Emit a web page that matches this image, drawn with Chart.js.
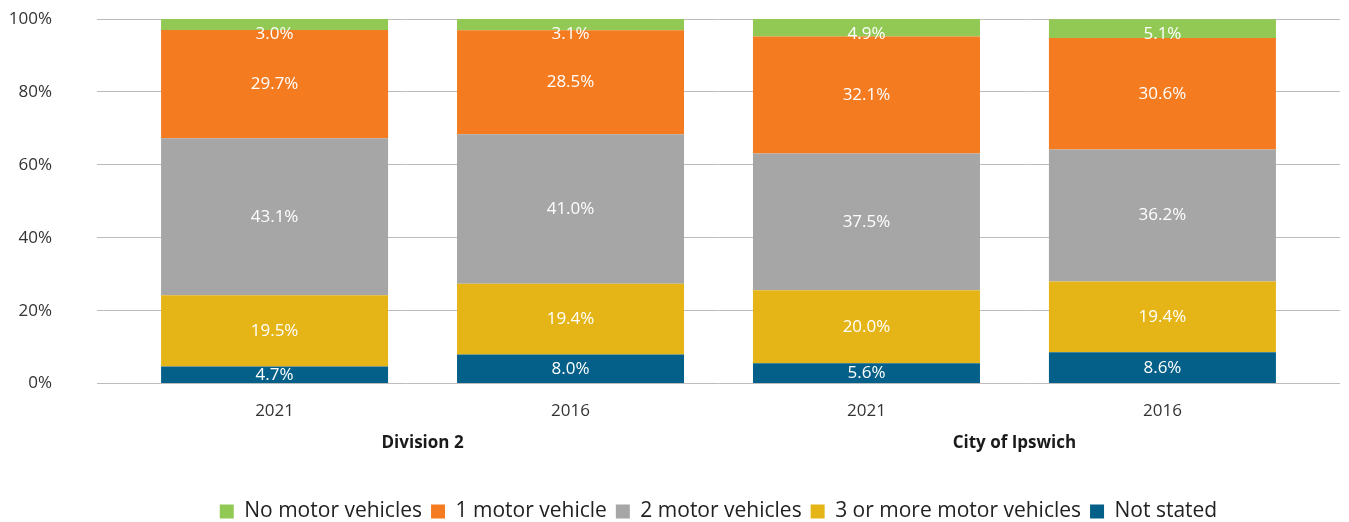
<!DOCTYPE html>
<html>
<head>
<meta charset="utf-8">
<script src="https://cdn.jsdelivr.net/npm/chart.js@4"></script>
<style>
  html, body { margin: 0; padding: 0; background: #fff; }
  #chart-container { width: 1349px; height: 522px; position: relative; }
</style>
</head>
<body>
<div id="chart-container"><canvas id="chartVehicles"></canvas></div>
<script>
// categories (x axis) and the group each pair belongs to
const years = ['2021', '2016', '2021', '2016'];
const groups = ['Division 2', 'City of Ipswich'];
const groupOf = [0, 0, 1, 1];

// series, bottom of the stack first
const notStated = [4.7, 8.0, 5.6, 8.6];
const threePlus = [19.5, 19.4, 20.0, 19.4];
const twoVehicles = [43.1, 41.0, 37.5, 36.2];
const oneVehicle = [29.7, 28.5, 32.1, 30.6];
const noVehicles = [3.0, 3.1, 4.9, 5.1];

const yTicks = [0, 20, 40, 60, 80, 100];

const fontFamily = '"Open Sans", Lato, sans-serif';

// bars sit on a numeric x axis so the grid can run past the outer bars
const toPoints = (arr) => arr.map((v, i) => ({ x: i, y: v }));

// white value labels in the middle of each segment
const segmentLabels = {
    id: 'segmentLabels',
    afterDatasetsDraw(chart) {
        const ctx = chart.ctx;
        const top = chart.chartArea.top;
        ctx.save();
        ctx.fillStyle = '#ffffff';
        ctx.font = '17px ' + fontFamily;
        ctx.textAlign = 'center';
        ctx.textBaseline = 'middle';
        chart.data.datasets.forEach((ds, i) => {
            const meta = chart.getDatasetMeta(i);
            meta.data.forEach((bar, j) => {
                const mid = (bar.y + bar.base) / 2;
                const y = Math.max(mid, top + 15);
                ctx.fillText(ds.data[j].y.toFixed(1) + '%', bar.x, y);
            });
        });
        ctx.restore();
    }
};

// bold group names under each pair of years
const groupLabels = {
    id: 'groupLabels',
    afterDraw(chart) {
        const ctx = chart.ctx;
        const x = chart.scales.x;
        ctx.save();
        ctx.fillStyle = '#1a1a1a';
        ctx.font = 'bold 17px ' + fontFamily;
        ctx.textAlign = 'center';
        ctx.textBaseline = 'middle';
        groups.forEach((g, gi) => {
            const idx = [];
            groupOf.forEach((v, k) => { if (v === gi) idx.push(k); });
            const cx = (x.getPixelForValue(idx[0]) + x.getPixelForValue(idx[idx.length - 1])) / 2;
            ctx.fillText(g, cx, chart.chartArea.bottom + 60);
        });
        ctx.restore();
    }
};

// centre the legend on the plot area instead of the whole canvas
const legendShift = {
    id: 'legendShift',
    afterLayout(chart) {
        const lg = chart.legend;
        const area = chart.chartArea;
        const dx = (area.left + area.right) / 2 - (lg.left + lg.right) / 2;
        lg.left += dx;
        lg.right += dx;
    }
};

const data = {
    datasets: [
        { label: 'Not stated', data: toPoints(notStated), backgroundColor: '#046088' },
        { label: '3 or more motor vehicles', data: toPoints(threePlus), backgroundColor: '#E5B517' },
        { label: '2 motor vehicles', data: toPoints(twoVehicles), backgroundColor: '#A5A6A5' },
        { label: '1 motor vehicle', data: toPoints(oneVehicle), backgroundColor: '#F47B20' },
        { label: 'No motor vehicles', data: toPoints(noVehicles), backgroundColor: '#92C955' }
    ]
};

const options = {
    responsive: true,
    maintainAspectRatio: false,
    animation: false,
    layout: { padding: { top: 19, right: 9, left: 6, bottom: -10 } },
    datasets: {
        bar: { barPercentage: 0.767, categoryPercentage: 1.0, borderWidth: 0 }
    },
    scales: {
        x: {
            type: 'linear',
            offset: false,
            stacked: true,
            min: -0.6,
            max: 3.6,
            afterBuildTicks: (scale) => { scale.ticks = years.map((y, i) => ({ value: i })); },
            grid: { display: false },
            border: { display: false },
            ticks: {
                color: '#333',
                font: { size: 17, family: fontFamily },
                padding: 9,
                callback: (v) => years[v]
            },
            afterFit: (scale) => { scale.height += 62; }
        },
        y: {
            stacked: true,
            min: 0,
            max: 100,
            afterBuildTicks: (scale) => { scale.ticks = yTicks.map(v => ({ value: v })); },
            afterFit: (scale) => {
                scale.width = 91;
                scale.paddingTop = 10;
                scale.paddingBottom = 10;
            },
            grid: { color: '#BCBCBC', lineWidth: 1, drawTicks: false },
            border: { display: false },
            ticks: {
                color: '#333',
                font: { size: 17, family: fontFamily },
                padding: 45,
                callback: (v) => v + '%'
            }
        }
    },
    plugins: {
        legend: {
            position: 'bottom',
            reverse: true,
            labels: {
                boxWidth: 14,
                boxHeight: 14,
                padding: 9,
                color: '#222',
                font: { size: 21, family: fontFamily }
            }
        },
        tooltip: { enabled: false }
    }
};

new Chart(document.getElementById('chartVehicles').getContext('2d'), {
    type: 'bar', data: data, options: options, plugins: [segmentLabels, groupLabels, legendShift]
});
</script>
</body>
</html>
